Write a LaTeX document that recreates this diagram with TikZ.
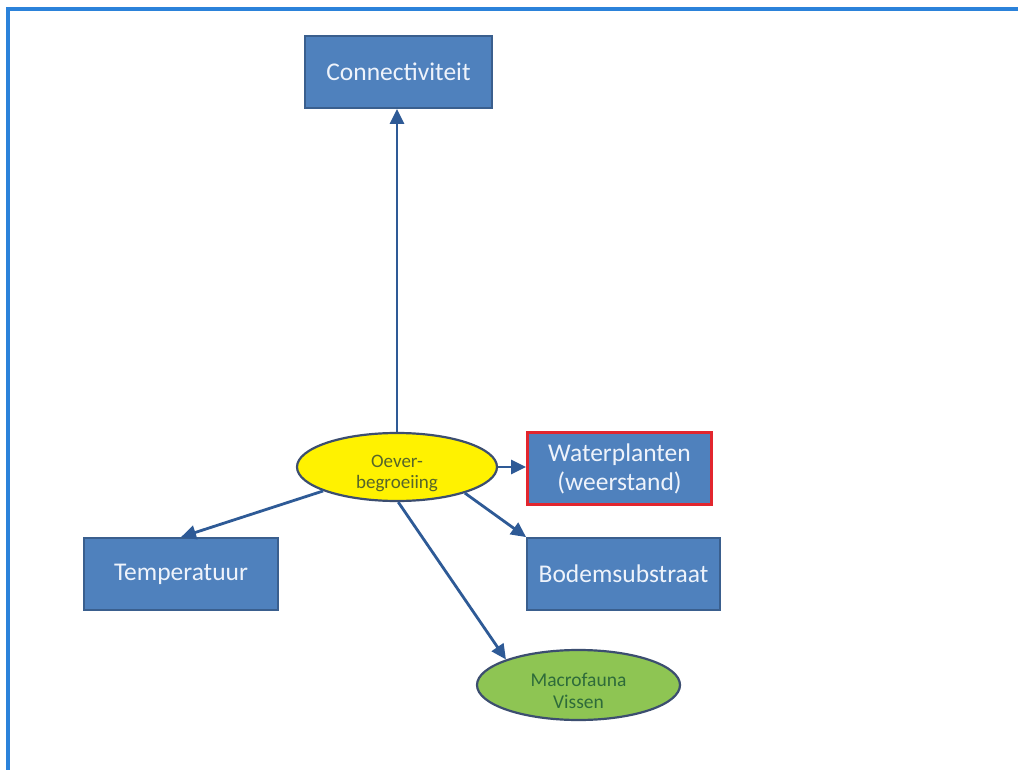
\documentclass[tikz,border=0pt]{standalone}
\usepackage{fontspec}
\setmainfont{Carlito}
\usetikzlibrary{arrows.meta,shapes.geometric}

\definecolor{frameblue}{HTML}{2B82DA}
\definecolor{boxfill}{HTML}{4F81BD}
\definecolor{boxline}{HTML}{3A5F8E}
\definecolor{boxtext}{HTML}{EEF3FB}
\definecolor{arrowblue}{HTML}{2E5A96}
\definecolor{warnred}{HTML}{E2262E}
\definecolor{ovalline}{HTML}{3C4E70}
\definecolor{oevertext}{HTML}{56652A}
\definecolor{fauna}{HTML}{8EC553}
\definecolor{faunatext}{HTML}{2E6B3A}

\tikzset{
  factor/.style={rectangle, draw=boxline, line width=1.8pt, fill=boxfill,
    text=boxtext, inner sep=0pt, align=center,
    font=\fontsize{25.5}{29}\selectfont},
  hub/.style={ellipse, draw=ovalline, line width=2.2pt, fill=yellow,
    inner sep=0pt},
  biota/.style={ellipse, draw=ovalline, line width=2.2pt, fill=fauna,
    inner sep=0pt},
  ovaltext/.style={align=center, inner sep=0pt, yshift=-6pt},
  link/.style={draw=arrowblue, line width=2.8pt,
    -{Triangle[length=15pt,width=14pt]}},
}

\begin{document}
\begin{tikzpicture}[x=1pt,y=-1pt]
\useasboundingbox (0,0) rectangle (1018,770);
\fill[white] (0,0) rectangle (1018,770);

% outer frame (open to the right and bottom)
\draw[frameblue, line width=3.2pt] (8,772) -- (8,9) -- (1020,9);

% nodes
\node[factor, minimum width=187pt, minimum height=72pt] (conn) at (398.5,72) {Connectiviteit};
\node[hub, minimum width=200pt, minimum height=68pt,
  label={[ovaltext, text=oevertext, font=\fontsize{19}{21}\selectfont]center:Oever-\\begroeiing}]
  (oever) at (397,467) {};
\node[factor, draw=warnred, line width=3pt, minimum width=184pt, minimum height=72pt] (water) at (619.5,468.5) {Waterplanten\\(weerstand)};
\node[factor, minimum width=194pt, minimum height=72pt] (temp) at (181,574) {Temperatuur};
\node[factor, minimum width=193pt, minimum height=72pt] (bodem) at (623.5,574) {Bodemsubstraat};
\node[biota, minimum width=203pt, minimum height=70pt,
  label={[ovaltext, text=faunatext, font=\fontsize{19.5}{22}\selectfont]center:Macrofauna\\Vissen}]
  (fauna) at (578.5,685) {};

% connectors
\draw[link] (oever.north) -- (oever.north |- conn.south);
\draw[link] (oever.east) -- (oever.east -| water.west);
\draw[link] (oever) -- (temp.north);
\draw[link] (oever.-21) -- (bodem.north west);
\draw[link] (oever.-88) -- (fauna.north west);
\end{tikzpicture}
\end{document}
